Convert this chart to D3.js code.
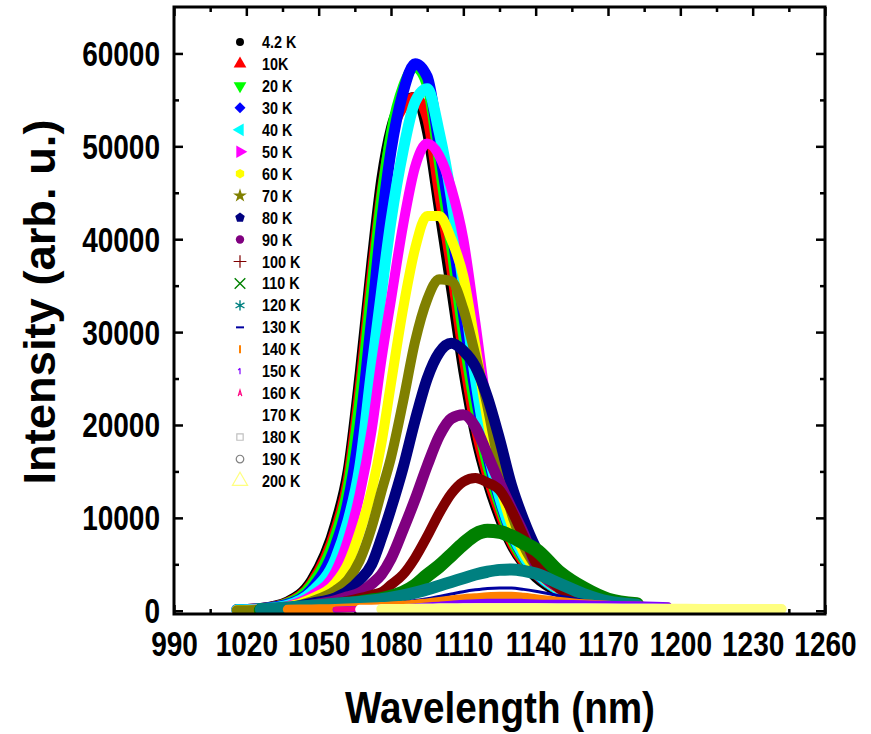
<!DOCTYPE html>
<html>
<head>
<meta charset="utf-8">
<script src="https://cdn.jsdelivr.net/npm/d3@7"></script>
<style>
  body { margin: 0; background: #fff; }
  text { font-family: "Liberation Sans", Arial, sans-serif; font-weight: bold; fill: #000; }
</style>
</head>
<body>
<svg id="chart" width="871" height="734"></svg>
<script>
// temperatures (legend labels)
var temps = ["4.2 K", "10K", "20 K", "30 K", "40 K", "50 K", "60 K", "70 K", "80 K", "90 K", "100 K",
  "110 K", "120 K", "130 K", "140 K", "150 K", "160 K", "170 K", "180 K", "190 K", "200 K"];

// wavelength grid (nm), shared by all spectra
var wl = [1016, 1026, 1037, 1047, 1057, 1062, 1067, 1072, 1076, 1080, 1085, 1090, 1095, 1100, 1105,
  1110, 1115, 1120, 1125, 1130, 1135, 1140, 1150, 1160, 1170, 1182, 1195, 1210, 1225, 1242];

var i4K2 = [150, 300, 1000, 3300, 9500, 15000, 25500, 37800, 46500, 52000, 54800, 55300, 51500, 43000, 34500,
  25800, 18800, 13800, 10000, 7000, 5000, 3600, 1900, 1000, 700, 550];
var i10K = [150, 280, 900, 3000, 8800, 14000, 24000, 36300, 45000, 51000, 54200, 55300, 53000, 44800, 36800,
  27500, 19800, 14500, 10600, 7300, 5200, 3900, 2100, 1100, 700, 550];
var i20K = [150, 260, 850, 2800, 8200, 13200, 22800, 35000, 44500, 51500, 56500, 58500, 56500, 48000, 39000,
  29500, 21500, 15500, 11300, 7700, 5500, 4000, 2100, 1100, 700, 550];
var i30K = [120, 230, 700, 2300, 7000, 11500, 19500, 31500, 41500, 49500, 55800, 58900, 57500, 50000, 41500,
  32000, 23500, 16800, 12000, 8300, 5800, 4100, 2200, 1150, 720, 580];
var i40K = [100, 200, 600, 2000, 5600, 9500, 15400, 26000, 34200, 42000, 49500, 54800, 56200, 51500, 44500,
  35000, 25000, 17500, 12300, 8500, 5900, 4200, 2200, 1150, 720, 580];
var i50K = [80, 160, 500, 1600, 4200, 7500, 12500, 19500, 27000, 33500, 41500, 47800, 50300, 49000, 45500,
  40000, 31000, 21500, 14500, 9700, 6500, 4500, 2300, 1200, 750, 600];
var i60K = [70, 130, 420, 1300, 3000, 5000, 8500, 13000, 18000, 24500, 32500, 39000, 42500, 42500, 40000,
  36000, 28500, 20500, 13800, 9300, 6300, 4400, 2300, 1200, 750, 600];
var i70K = [60, 110, 340, 1000, 2200, 3300, 5400, 9000, 12800, 16500, 22500, 29000, 33500, 35700, 35500,
  32500, 27500, 22000, 15500, 10500, 7000, 4800, 2400, 1200, 750, 600];
var i80K = [null, 100, 280, 800, 1400, 2100, 3300, 5000, 7800, 11000, 15400, 20500, 25000, 27800, 28800,
  28000, 26300, 23000, 18500, 13500, 9800, 6800, 3200, 1500, 850, 600];
var i90K = [null, 80, 230, 600, 1100, 1500, 1930, 2900, 3900, 5600, 8700, 12000, 15600, 18800, 20700,
  21100, 19800, 16800, 13800, 11000, 8300, 5000, 2400, 1200, 800, 600];
var i100K = [null, 60, 170, 420, 800, 1050, 1350, 1700, 2000, 2800, 3900, 5700, 8000, 10500, 12600,
  13900, 14300, 13800, 13000, 10800, 8000, 5200, 2400, 1200, 800, 600];
var i110K = [null, 55, 140, 330, 600, 700, 900, 1100, 1250, 1500, 1950, 2700, 3800, 4800, 6000,
  7200, 8200, 8600, 8500, 8000, 7300, 6600, 4100, 2400, 1200, 700];
var i120K = [null, 150, 350, 550, 750, 850, 950, 1100, 1250, 1400, 1650, 1950, 2300, 2700, 3100,
  3500, 3900, 4200, 4400, 4450, 4300, 4000, 2900, 1800, 1000, 650];
var i130K = [null, null, 100, 200, 300, 380, 450, 550, 650, 750, 900, 1100, 1300, 1550, 1800,
  2050, 2250, 2400, 2450, 2450, 2300, 2100, 1600, 1100, 800, 650];
var i140K = [null, null, 150, 200, 250, 300, 350, 400, 450, 500, 600, 700, 850, 1000, 1150,
  1300, 1400, 1500, 1550, 1550, 1450, 1300, 1000, 750, 600, 500, 400];
var i150K = [null, null, null, null, 120, 150, 180, 220, 260, 300, 380, 460, 560, 660, 760,
  850, 920, 960, 980, 980, 950, 900, 850, 800, 750, 700, 600];
var i160K = [null, null, null, null, 150, 170, 190, 210, 230, 250, 280, 310, 340, 370, 400,
  420, 440, 450, 460, 460, 450, 440, 420, 400, 380, 350, 320, 300];
var i170K = [null, null, null, null, null, null, 150, 170, 190, 210, 230, 250, 270, 290, 300,
  310, 320, 330, 330, 330, 320, 310, 300, 290, 280, 270, 250, 230, 200];
var i180K = [null, null, null, null, null, null, null, null, 200, 210, 220, 240, 260, 270, 280,
  290, 300, 300, 300, 300, 290, 280, 270, 260, 250, 240, 220, 200, 190, 180];
var i190K = [null, null, null, null, null, null, null, null, 180, 190, 200, 210, 230, 240, 250,
  260, 270, 270, 270, 270, 260, 250, 240, 230, 220, 210, 200, 190, 180, 170];
var i200K = [null, null, null, null, null, null, null, null, 180, 190, 200, 210, 220, 230, 240,
  250, 260, 270, 270, 270, 270, 260, 250, 240, 230, 220, 210, 200, 190, 180];

var series = [i4K2, i10K, i20K, i30K, i40K, i50K, i60K, i70K, i80K, i90K, i100K,
  i110K, i120K, i130K, i140K, i150K, i160K, i170K, i180K, i190K, i200K];

// Origin default colour list
var colors = ["#000000", "#ff0000", "#00ff00", "#0000ff", "#00ffff", "#ff00ff", "#ffff00", "#808000",
  "#000080", "#800080", "#800000", "#008000", "#008080", "#0000a0", "#ff8000", "#8000ff", "#ff0080",
  "#ffffff", "#c0c0c0", "#808080", "#ffff80"];
var bandWidths = [10, 10, 10, 11, 11, 10, 10, 10, 11, 11, 10, 14, 12, 3, 9, 6, 5, 9, 5, 5, 10];

var xTicks = [990, 1020, 1050, 1080, 1110, 1140, 1170, 1200, 1230, 1260];
var xMinor = [1005, 1035, 1065, 1095, 1125, 1155, 1185, 1215, 1245];
var yTicks = [0, 10000, 20000, 30000, 40000, 50000, 60000];
var yMinor = [5000, 15000, 25000, 35000, 45000, 55000];

var svg = d3.select("#chart");
var pLeft = 174, pRight = 825, pTop = 7, pBottom = 614;

var x = d3.scaleLinear().domain([990, 1260]).range([pLeft, pRight]);
var y = d3.scaleLinear().domain([-350, 65000]).range([pBottom, pTop]);

// ticks (inward, mirrored on top/right like Origin)
function styleAxis(g) {
  g.select(".domain").remove();
  g.selectAll(".tick line").attr("stroke", "#000").attr("stroke-width", 2.5);
}

svg.append("g").attr("transform", "translate(0," + pBottom + ")")
  .call(d3.axisBottom(x).tickValues(xTicks).tickSize(-9).tickPadding(17).tickFormat(d3.format("d")))
  .call(styleAxis)
  .selectAll("text")
  .attr("font-size", 35).attr("transform", "scale(0.8,1)");
svg.append("g").attr("transform", "translate(0," + pBottom + ")")
  .call(d3.axisBottom(x).tickValues(xMinor).tickSize(-5).tickFormat(""))
  .call(styleAxis);
svg.append("g").attr("transform", "translate(0," + pTop + ")")
  .call(d3.axisTop(x).tickValues(xTicks).tickSize(-9).tickFormat(""))
  .call(styleAxis);
svg.append("g").attr("transform", "translate(0," + pTop + ")")
  .call(d3.axisTop(x).tickValues(xMinor).tickSize(-5).tickFormat(""))
  .call(styleAxis);

svg.append("g").attr("transform", "translate(" + pLeft + ",0)")
  .call(d3.axisLeft(y).tickValues(yTicks).tickSize(-9).tickFormat(d3.format("d")))
  .call(styleAxis)
  .selectAll("text")
  .attr("font-size", 35)
  .attr("x", -14 / 0.8)
  .attr("dy", "0.34em")
  .attr("transform", "scale(0.8,1)");
svg.append("g").attr("transform", "translate(" + pLeft + ",0)")
  .call(d3.axisLeft(y).tickValues(yMinor).tickSize(-5).tickFormat(""))
  .call(styleAxis);
svg.append("g").attr("transform", "translate(" + pRight + ",0)")
  .call(d3.axisRight(y).tickValues(yTicks).tickSize(-9).tickFormat(""))
  .call(styleAxis);
svg.append("g").attr("transform", "translate(" + pRight + ",0)")
  .call(d3.axisRight(y).tickValues(yMinor).tickSize(-5).tickFormat(""))
  .call(styleAxis);

// spectra as thick bands (dense scatter in the original)
svg.append("clipPath").attr("id", "plot-clip")
  .append("rect").attr("x", pLeft).attr("y", pTop).attr("width", pRight - pLeft).attr("height", pBottom - pTop);

var line = d3.line()
  .defined(function (d) { return d[1] != null; })
  .x(function (d) { return x(d[0]); })
  .y(function (d) { return y(d[1]); })
  .curve(d3.curveMonotoneX);

var plot = svg.append("g").attr("clip-path", "url(#plot-clip)");
series.forEach(function (s, i) {
  plot.append("path")
    .datum(wl.map(function (w, j) { return [w, s[j]]; }))
    .attr("d", line)
    .attr("fill", "none")
    .attr("stroke", colors[i])
    .attr("stroke-width", bandWidths[i])
    .attr("stroke-linecap", "round")
    .attr("stroke-linejoin", "round");
});

// frame
svg.append("rect")
  .attr("x", pLeft).attr("y", pTop)
  .attr("width", pRight - pLeft).attr("height", pBottom - pTop)
  .attr("fill", "none").attr("stroke", "#000").attr("stroke-width", 3);

// axis titles
svg.append("text")
  .attr("x", 500).attr("y", 723)
  .attr("text-anchor", "middle")
  .attr("font-size", 44)
  .attr("textLength", 310).attr("lengthAdjust", "spacingAndGlyphs")
  .text("Wavelength (nm)");
svg.append("text")
  .attr("transform", "translate(55,302) rotate(-90)")
  .attr("text-anchor", "middle")
  .attr("font-size", 45)
  .attr("textLength", 365).attr("lengthAdjust", "spacingAndGlyphs")
  .text("Intensity (arb. u.)");

// legend symbols
function polygon(n, rot) {
  return {
    draw: function (ctx, size) {
      var r = Math.sqrt(size / (0.5 * n * Math.sin(2 * Math.PI / n)));
      for (var k = 0; k < n; k++) {
        var a = rot + k * 2 * Math.PI / n;
        if (k === 0) ctx.moveTo(r * Math.sin(a), -r * Math.cos(a));
        else ctx.lineTo(r * Math.sin(a), -r * Math.cos(a));
      }
      ctx.closePath();
    }
  };
}
var dash = { draw: function (ctx, size) { ctx.moveTo(-size, 0); ctx.lineTo(size, 0); } };
var vbar = { draw: function (ctx, size) { ctx.moveTo(0, -size); ctx.lineTo(0, size); } };
var one = { draw: function (ctx, size) { ctx.moveTo(0, -size); ctx.lineTo(0, size); ctx.moveTo(-size * 0.6, -size * 0.4); ctx.lineTo(0, -size); } };
var caret = { draw: function (ctx, size) { ctx.moveTo(-size * 0.6, size); ctx.lineTo(0, -size); ctx.lineTo(size * 0.6, size); ctx.moveTo(-size * 0.35, size * 0.3); ctx.lineTo(size * 0.35, size * 0.3); } };

var shapes = [
  { t: d3.symbolCircle, s: 50, r: 0, f: true },
  { t: d3.symbolTriangle, s: 70, r: 0, f: true },
  { t: d3.symbolTriangle, s: 70, r: 180, f: true },
  { t: d3.symbolSquare, s: 60, r: 45, f: true },
  { t: d3.symbolTriangle, s: 70, r: -90, f: true },
  { t: d3.symbolTriangle, s: 70, r: 90, f: true },
  { t: polygon(6, 0), s: 60, r: 0, f: true },
  { t: d3.symbolStar, s: 60, r: 0, f: true },
  { t: polygon(5, 0), s: 60, r: 0, f: true },
  { t: d3.symbolCircle, s: 55, r: 0, f: true },
  { t: d3.symbolPlus, s: 55, r: 0, f: false, w: 1.2 },
  { t: d3.symbolTimes, s: 75, r: 0, f: false, w: 1.4 },
  { t: d3.symbolAsterisk, s: 75, r: 0, f: false, w: 1.4 },
  { t: dash, s: 4, r: 0, f: false, w: 2 },
  { t: vbar, s: 4, r: 0, f: false, w: 2 },
  { t: one, s: 3, r: 0, f: false, w: 1.2 },
  { t: caret, s: 3, r: 0, f: false, w: 1.2 },
  { t: d3.symbolSquare, s: 40, r: 0, f: false, w: 1.2 },
  { t: d3.symbolSquare, s: 40, r: 0, f: false, w: 1.2 },
  { t: d3.symbolCircle, s: 45, r: 0, f: false, w: 1.2 },
  { t: d3.symbolTriangle, s: 100, r: 0, f: false, w: 1.2 }
];

var legend = svg.append("g");
var rowY = d3.scaleLinear().domain([0, 20]).range([42, 481]);
temps.forEach(function (t, i) {
  var sh = shapes[i];
  legend.append("path")
    .attr("d", d3.symbol().type(sh.t).size(sh.s)())
    .attr("transform", "translate(240," + rowY(i) + ") rotate(" + sh.r + ")")
    .attr("fill", sh.f ? colors[i] : "none")
    .attr("stroke", sh.f ? "none" : colors[i])
    .attr("stroke-width", sh.w || 0);
  legend.append("text")
    .attr("transform", "translate(262," + (rowY(i) + 6) + ") scale(0.9,1)")
    .attr("font-size", 16)
    .text(t);
});
</script>
</body>
</html>
